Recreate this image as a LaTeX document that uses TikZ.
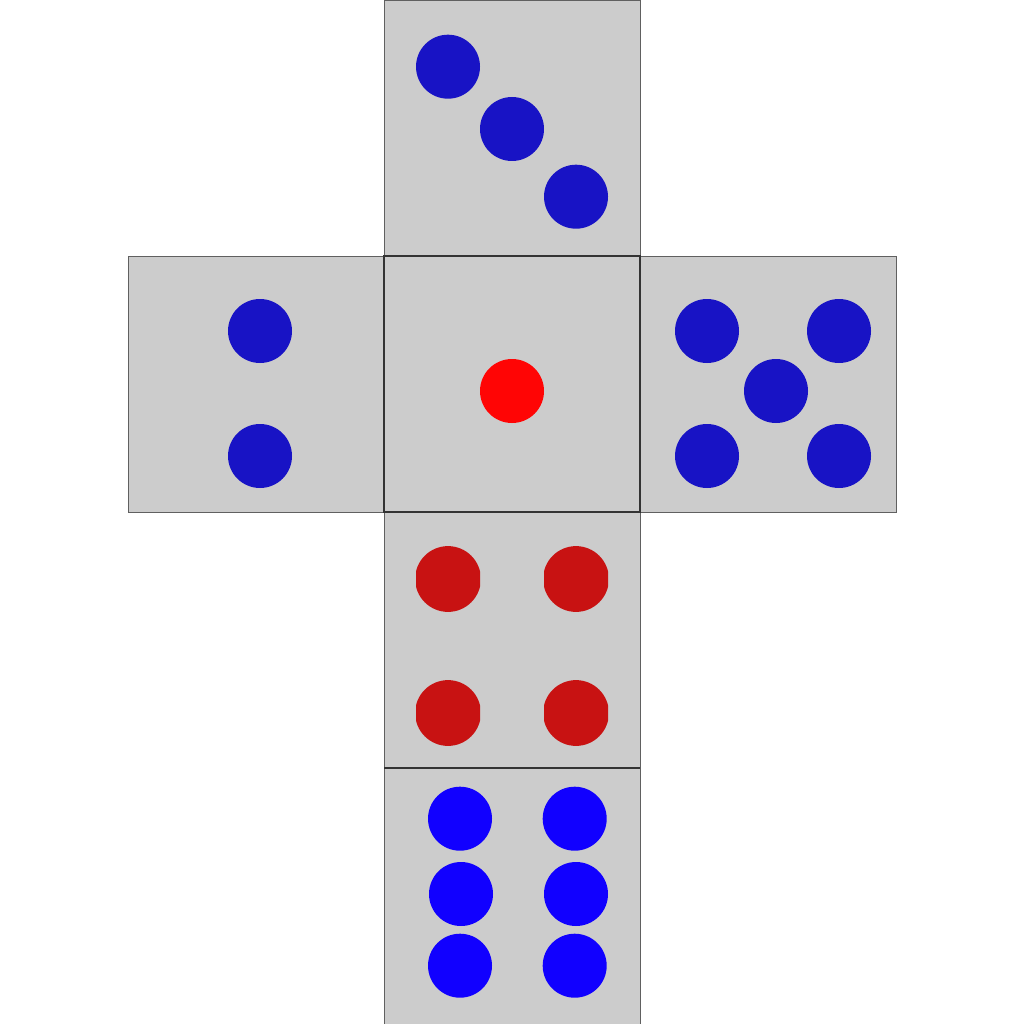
\documentclass[tikz,border=0pt]{standalone}
\begin{document}
\begin{tikzpicture}[x=1pt,y=-1pt,
  face/.style={fill=facegray,draw=edgegray,line width=0.9pt},
  blueA/.style={fill=dotblue},
  blueB/.style={fill=brightblue}]
\definecolor{facegray}{HTML}{CCCCCC}
\definecolor{edgegray}{HTML}{606060}
\definecolor{edgedark}{HTML}{333333}
\definecolor{dotblue}{RGB}{24,19,197}
\definecolor{brightblue}{RGB}{17,0,255}
\definecolor{redA}{RGB}{255,5,5}
\definecolor{redB}{RGB}{200,18,18}
\useasboundingbox (0,0) rectangle (1024,1024);
% faces
\draw[face] (384,0) rectangle (640,256);
\draw[face] (128,256) rectangle (384,512);
\draw[face] (640,256) rectangle (896,512);
\draw[face] (384,512) rectangle (640,768);
\draw[face] (384,768) rectangle (640,1024);
\draw[face,draw=edgedark,line width=2pt] (384,256) rectangle (640,512);
\draw[edgedark,line width=2pt] (384,768) -- (640,768);
% three
\fill[blueA] (448,66.7) circle (32);
\fill[blueA] (512,129) circle (32);
\fill[blueA] (576,196.7) circle (32);
% two
\fill[blueA] (260,331) circle (32);
\fill[blueA] (260,456) circle (32);
% one
\fill[redA] (512,391) circle (32);
% five
\fill[blueA] (707,331) circle (32);
\fill[blueA] (839,331) circle (32);
\fill[blueA] (776,391) circle (32);
\fill[blueA] (707,456) circle (32);
\fill[blueA] (839,456) circle (32);
% four
\foreach \cx/\cy in {448/579,576/579,448/713,576/713}{
  \begin{scope}
    \clip (\cx-32,\cy-32.4) rectangle (\cx+32,\cy+32.4);
    \fill[redB] (\cx,\cy) circle (32.9);
  \end{scope}
}
% six
\fill[blueB] (460,818.7) circle (32);
\fill[blueB] (574.7,818.7) circle (32);
\fill[blueB] (461,894) circle (32);
\fill[blueB] (576,894) circle (32);
\fill[blueB] (460,965.7) circle (32);
\fill[blueB] (574.7,965.7) circle (32);
\end{tikzpicture}
\end{document}
